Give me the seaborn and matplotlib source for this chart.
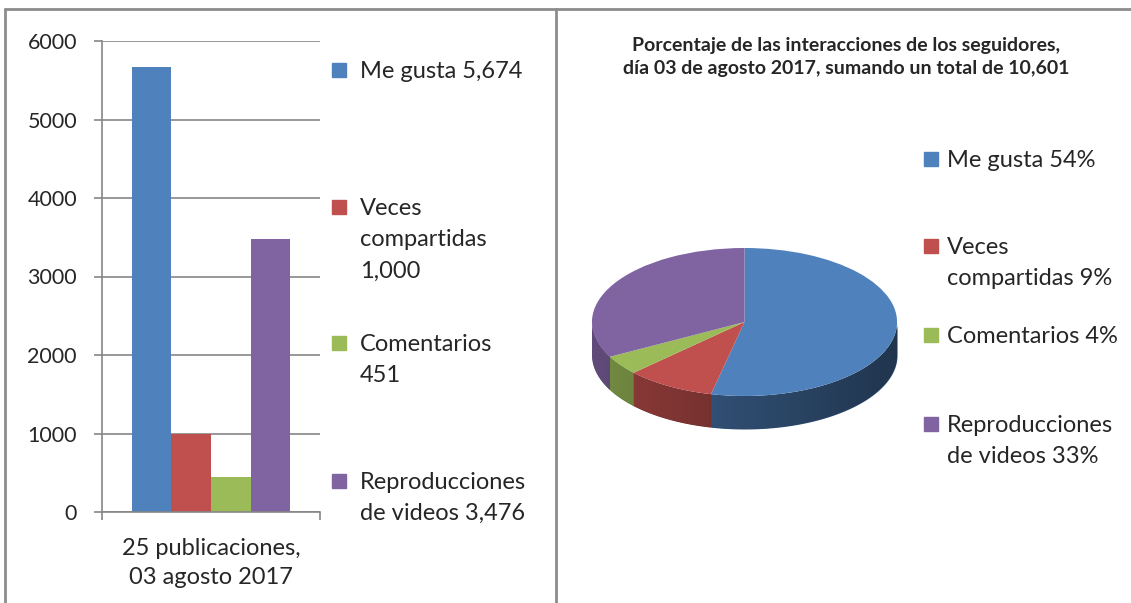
import numpy as np
import pandas as pd
import matplotlib
matplotlib.use("Agg")
import matplotlib.pyplot as plt
from matplotlib.lines import Line2D
from matplotlib.patches import Rectangle
from matplotlib.colors import to_rgb
import seaborn as sns

# datos
series = ["Me gusta", "Veces compartidas", "Comentarios", "Reproducciones de videos"]
valores = [5674, 1000, 451, 3476]
categoria = "25 publicaciones,\n03 agosto 2017"
colores = ["#4f81bd", "#c0504d", "#9bbb59", "#8064a2"]
leyenda_barras = ["Me gusta 5,674", "Veces\ncompartidas\n1,000", "Comentarios\n451",
                  "Reproducciones\nde videos 3,476"]
leyenda_pie = ["Me gusta 54%", "Veces\ncompartidas 9%", "Comentarios 4%",
               "Reproducciones\nde videos 33%"]
titulo_pie = ("Porcentaje de las interacciones de los seguidores,\n"
              "día 03 de agosto 2017, sumando un total de 10,601")
yticks = [0, 1000, 2000, 3000, 4000, 5000, 6000]

sns.set_style("white")
plt.rcParams["font.family"] = ["Lato", "DejaVu Sans"]

W, H = 1131, 603
fig = plt.figure(figsize=(W / 100, H / 100), dpi=100)


def px(x0, y0, x1, y1):
    # caja en pixeles -> fraccion de figura
    return [x0 / W, 1 - y1 / H, (x1 - x0) / W, (y1 - y0) / H]


# marcos de los paneles
gris = "#8c8c8c"
for xs, ys in [([5, 5], [603, 9]), ([5, 556], [9, 9]), ([556, 556], [9, 603]),
               ([556, 1131], [9, 9])]:
    fig.add_artist(Line2D([x / W for x in xs], [1 - y / H for y in ys],
                          color=gris, lw=2))

# ---- barras ----
df = pd.DataFrame({"grupo": [categoria] * 4, "serie": series, "valor": valores})
ax = fig.add_axes(px(102, 41, 320, 512))
sns.barplot(data=df, x="grupo", y="valor", hue="serie", palette=colores,
            width=0.725, ax=ax, legend=False, saturation=1, linewidth=0,
            edgecolor="none")
ax.set_xlim(-0.5, 0.5)
ax.set_ylim(0, 6000)
ax.set_yticks(yticks)
ax.yaxis.grid(True, color="#868686", lw=1.2)
ax.set_axisbelow(True)
for s in ["top", "right"]:
    ax.spines[s].set_visible(False)
for s in ["left", "bottom"]:
    ax.spines[s].set_color("#868686")
    ax.spines[s].set_linewidth(1.2)
ax.tick_params(axis="y", length=6, width=1.2, color="#868686", labelsize=15.5,
               pad=12, left=True)
ax.set_xticks([-0.5, 0.5], ["", ""])
ax.tick_params(axis="x", length=6, width=1.2, color="#868686", bottom=True)
ax.set_xlabel("")
ax.set_ylabel("")
fig.text(211 / W, 1 - 538 / H, categoria, ha="center", va="top", fontsize=17,
         linespacing=1.45)

# leyenda manual
ys_bar = [70, 207, 343, 481]
for c, lab, y in zip(colores, leyenda_barras, ys_bar):
    fig.add_artist(Rectangle((332 / W, 1 - (y + 7) / H), 14 / W, 14 / H,
                             color=c, transform=fig.transFigure))
    fig.text(360 / W, 1 - (y - 9) / H, lab, fontsize=17, va="top", ha="left",
             linespacing=1.6)

# ---- pie 3D ----
fig.text(846 / W, 1 - 37 / H, titulo_pie, ha="center", va="top", fontsize=14,
         fontweight="bold", linespacing=1.45)

axp = fig.add_axes(px(576.7, 240.6, 912.3, 436.4))
prof = 0.446
total = sum(valores)
frac = np.array(valores) / total
inicio = np.concatenate([[0], np.cumsum(frac)[:-1]])
fin = np.cumsum(frac)
xs_grad = np.linspace(-1, 1, 256)
for f0, f1, c in zip(inicio, fin, colores):
    t1 = 90 - 360 * f0
    t0 = 90 - 360 * f1
    # solo la parte frontal es visible (-180..0 grados)
    a, b = max(t0, -180), min(t1, 0)
    if a >= b:
        continue
    tt = np.linspace(np.radians(a), np.radians(b), 120)
    x, y = np.cos(tt), np.sin(tt)
    k = 0.75 - 0.17 * (xs_grad + 1)
    poly = axp.fill_between(x, y - prof, y, color=np.array(to_rgb(c)) * 0.6,
                            lw=0, zorder=1)
    img = np.clip(np.outer(k, to_rgb(c)), 0, 1)[None, :, :]
    im = axp.imshow(img, extent=(-1, 1, -1 - prof, 1), aspect="auto",
                    interpolation="bilinear", zorder=1.5)
    im.set_clip_path(poly.get_paths()[0], transform=axp.transData)
axp.pie(valores, colors=colores, startangle=90, counterclock=False,
        wedgeprops=dict(lw=0, zorder=2))
axp.set_aspect("auto")
axp.set_xlim(-1.1, 1.1)
axp.set_ylim(-1.1 - prof, 1.1)
axp.axis("off")

ys_pie = [159, 246, 335, 424]
for c, lab, y in zip(colores, leyenda_pie, ys_pie):
    fig.add_artist(Rectangle((924 / W, 1 - (y + 7) / H), 14 / W, 14 / H,
                             color=c, transform=fig.transFigure))
    fig.text(947 / W, 1 - (y - 9) / H, lab, fontsize=17, va="top", ha="left",
             linespacing=1.6)

fig.savefig("out.png", dpi=100)
